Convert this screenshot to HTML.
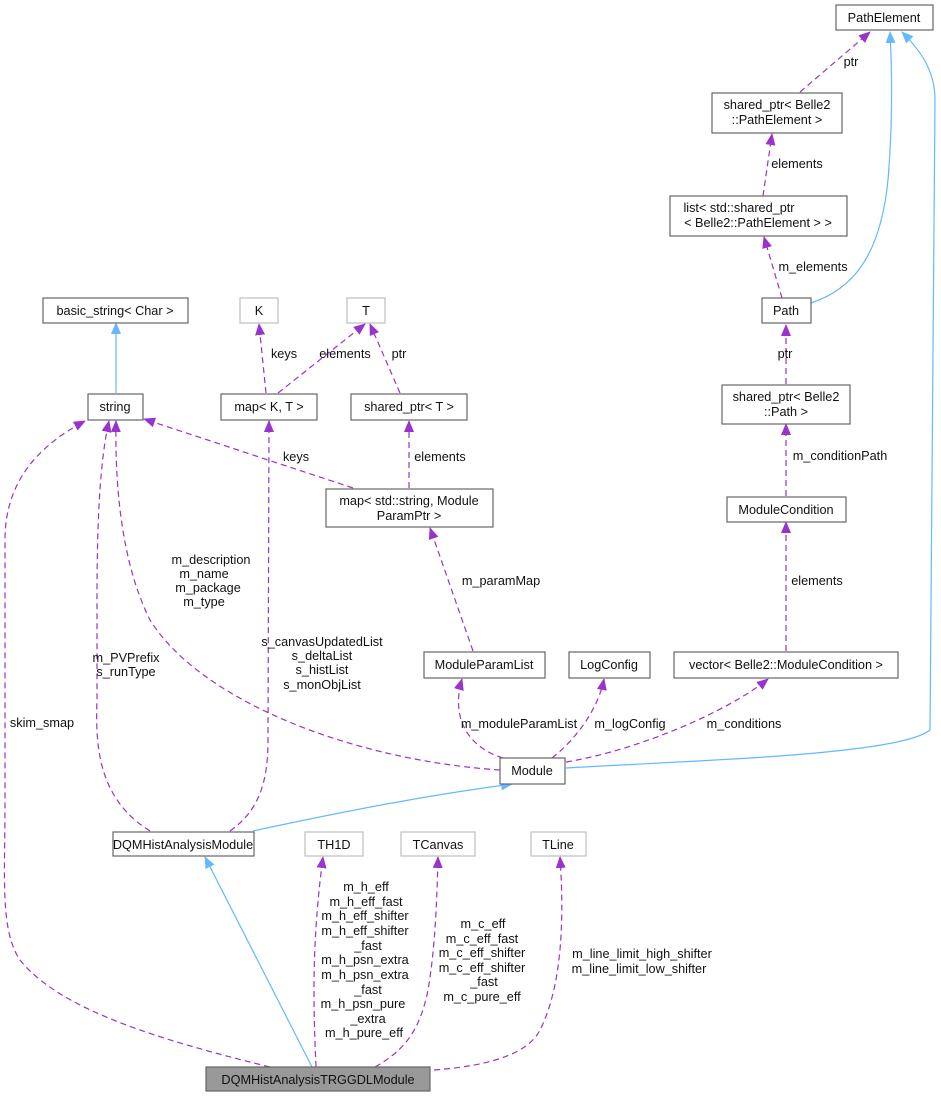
<!DOCTYPE html>
<html><head><meta charset="utf-8"><style>
html,body{margin:0;padding:0;background:#fff;}
svg{display:block;font-family:"Liberation Sans",sans-serif;font-size:12.7px;}
.b{fill:#fff;stroke:#666;stroke-width:1.2}
.g{fill:#fff;stroke:#bfbfbf;stroke-width:1.2}
.p{fill:none;stroke:#9a32cd;stroke-width:1.2;stroke-dasharray:6,4}
.u{fill:none;stroke:#63b8ff;stroke-width:1.2}
text{fill:#111;text-anchor:middle}
</style></head><body>
<svg width="941" height="1097" viewBox="0 0 941 1097">
<defs>
<marker id="ap" markerWidth="12" markerHeight="10" refX="11" refY="5" orient="auto" markerUnits="userSpaceOnUse"><path d="M0,0 L12,5 L0,10 z" fill="#9a32cd"/></marker>
<marker id="au" markerWidth="12" markerHeight="10" refX="11" refY="5" orient="auto" markerUnits="userSpaceOnUse"><path d="M0,0 L12,5 L0,10 z" fill="#63b8ff"/></marker>
</defs>
<path class="p" marker-end="url(#ap)" d="M800,92 L870,32"/>
<text x="851" y="66">ptr</text>
<path class="p" marker-end="url(#ap)" d="M763,196 L772,134"/>
<text x="797" y="168">elements</text>
<path class="p" marker-end="url(#ap)" d="M782,298 L764,237"/>
<text x="813" y="271">m_elements</text>
<path class="u" marker-end="url(#au)" d="M811,303 C850,290 880,260 888,180 C893,120 892,70 890,32"/>
<path class="u" marker-end="url(#au)" d="M566,768 C700,760 900,755 930,730 L935,100 C935,70 920,50 902,32"/>
<path class="p" marker-end="url(#ap)" d="M786,384 L786,325"/>
<text x="785" y="358">ptr</text>
<path class="p" marker-end="url(#ap)" d="M786,496 L786,424"/>
<text x="840" y="460">m_conditionPath</text>
<path class="p" marker-end="url(#ap)" d="M786,651 L786,522"/>
<text x="817" y="585">elements</text>
<path class="p" marker-end="url(#ap)" d="M566,762 C640,750 730,710 768,679"/>
<text x="744" y="728">m_conditions</text>
<path class="p" marker-end="url(#ap)" d="M552,758 C575,740 598,710 604,679"/>
<text x="630" y="728">m_logConfig</text>
<path class="p" marker-end="url(#ap)" d="M503,758 C470,748 450,720 462,679"/>
<text x="519" y="728">m_moduleParamList</text>
<path class="p" marker-end="url(#ap)" d="M473,651 L430,528"/>
<text x="501" y="585">m_paramMap</text>
<path class="p" marker-end="url(#ap)" d="M409,488 L409,421"/>
<text x="440" y="461">elements</text>
<path class="p" marker-end="url(#ap)" d="M400,393 L370,324"/>
<text x="399" y="358">ptr</text>
<path class="p" marker-end="url(#ap)" d="M278,393 L365,324"/>
<text x="345" y="358">elements</text>
<path class="p" marker-end="url(#ap)" d="M266,393 L259,324"/>
<text x="284" y="358">keys</text>
<path class="p" marker-end="url(#ap)" d="M353,488 L144,419"/>
<text x="296" y="461">keys</text>
<path class="u" marker-end="url(#au)" d="M116,393 L116,323"/>
<path class="p" marker-end="url(#ap)" d="M500,770 C350,760 200,700 150,620 C120,560 115,480 116,421"/>
<text x="211" y="564">m_description</text>
<text x="204" y="578">m_name</text>
<text x="208" y="592">m_package</text>
<text x="204" y="606">m_type</text>
<path class="p" marker-end="url(#ap)" d="M150,831 C100,800 95,750 97,700 L97,600 C97,520 100,460 109,421"/>
<text x="126" y="662">m_PVPrefix</text>
<text x="126" y="676">s_runType</text>
<path class="p" marker-end="url(#ap)" d="M230,831 C260,810 268,780 268,740 L269,421"/>
<text x="322" y="646">s_canvasUpdatedList</text>
<text x="322" y="660">s_deltaList</text>
<text x="322" y="674">s_histList</text>
<text x="322" y="689">s_monObjList</text>
<path class="p" marker-end="url(#ap)" d="M270,1067 C160,1040 60,1010 20,960 C0,930 5,880 5,800 L5,540 C5,480 40,445 85,421"/>
<text x="42" y="727">skim_smap</text>
<path class="u" marker-end="url(#au)" d="M253,831 C350,810 430,795 512,784"/>
<path class="u" marker-end="url(#au)" d="M312,1067 L205,857"/>
<path class="p" marker-end="url(#ap)" d="M316,1067 C313,1000 312,940 323,857"/>
<text x="366" y="891">m_h_eff</text>
<text x="366" y="906">m_h_eff_fast</text>
<text x="365" y="920">m_h_eff_shifter</text>
<text x="365" y="935">m_h_eff_shifter</text>
<text x="368" y="950">_fast</text>
<text x="365" y="964">m_h_psn_extra</text>
<text x="365" y="979">m_h_psn_extra</text>
<text x="368" y="994">_fast</text>
<text x="363" y="1008">m_h_psn_pure</text>
<text x="368" y="1023">_extra</text>
<text x="364" y="1037">m_h_pure_eff</text>
<path class="p" marker-end="url(#ap)" d="M375,1067 C405,1050 420,1030 428,990 C435,950 437,900 438,857"/>
<text x="483" y="928">m_c_eff</text>
<text x="482" y="943">m_c_eff_fast</text>
<text x="482" y="957">m_c_eff_shifter</text>
<text x="482" y="972">m_c_eff_shifter</text>
<text x="484" y="986">_fast</text>
<text x="482" y="1001">m_c_pure_eff</text>
<path class="p" marker-end="url(#ap)" d="M434,1070 C500,1065 530,1050 540,1030 C560,990 565,930 560,857"/>
<text x="642" y="958">m_line_limit_high_shifter</text>
<text x="639" y="973">m_line_limit_low_shifter</text>
<rect class="b" x="836" y="5" width="97" height="25"/><text x="884" y="22">PathElement</text>
<rect class="b" x="712" y="93" width="130" height="40"/><text x="777" y="109">shared_ptr&lt; Belle2</text><text x="777" y="124">::PathElement &gt;</text>
<rect class="b" x="670" y="196" width="177" height="40"/><text x="739" y="212">list&lt; std::shared_ptr</text><text x="758" y="227">&lt; Belle2::PathElement &gt; &gt;</text>
<rect class="b" x="762" y="298" width="49" height="25"/><text x="786" y="315">Path</text>
<rect class="b" x="722" y="385" width="128" height="39"/><text x="786" y="401">shared_ptr&lt; Belle2</text><text x="786" y="416">::Path &gt;</text>
<rect class="b" x="727" y="497" width="119" height="25"/><text x="786" y="514">ModuleCondition</text>
<rect class="b" x="674" y="652" width="224" height="26"/><text x="786" y="669">vector&lt; Belle2::ModuleCondition &gt;</text>
<rect class="b" x="569" y="652" width="81" height="26"/><text x="609" y="669">LogConfig</text>
<rect class="b" x="424" y="652" width="121" height="26"/><text x="484" y="669">ModuleParamList</text>
<rect class="b" x="500" y="758" width="65" height="26"/><text x="532" y="775">Module</text>
<rect class="b" x="326" y="489" width="167" height="38"/><text x="409" y="505">map&lt; std::string, Module</text><text x="409" y="520">ParamPtr &gt;</text>
<rect class="b" x="351" y="394" width="116" height="26"/><text x="409" y="411">shared_ptr&lt; T &gt;</text>
<rect class="g" x="347" y="298" width="38" height="25"/><text x="366" y="315">T</text>
<rect class="g" x="240" y="298" width="38" height="25"/><text x="259" y="315">K</text>
<rect class="b" x="221" y="394" width="96" height="26"/><text x="269" y="411">map&lt; K, T &gt;</text>
<rect class="b" x="43" y="298" width="145" height="25"/><text x="115" y="315">basic_string&lt; Char &gt;</text>
<rect class="b" x="88" y="394" width="55" height="26"/><text x="115" y="411">string</text>
<rect class="b" x="113" y="832" width="141" height="24"/><text x="183" y="849">DQMHistAnalysisModule</text>
<rect class="g" x="305" y="832" width="58" height="24"/><text x="334" y="849">TH1D</text>
<rect class="g" x="401" y="832" width="74" height="24"/><text x="438" y="849">TCanvas</text>
<rect class="g" x="531" y="832" width="55" height="24"/><text x="558" y="849">TLine</text>
<rect x="206" y="1067" width="224" height="24" fill="#999" stroke="#666" stroke-width="1.2"/><text x="318" y="1084">DQMHistAnalysisTRGGDLModule</text>
</svg>
</body></html>
